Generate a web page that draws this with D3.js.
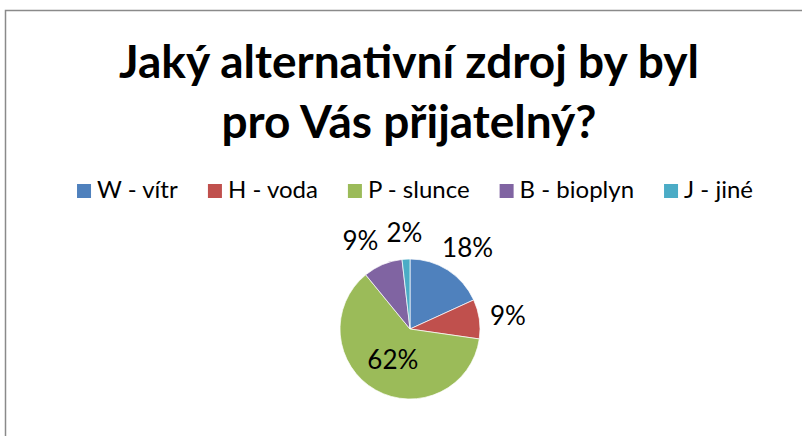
<!DOCTYPE html>
<html>
<head>
<meta charset="utf-8">
<script src="https://cdn.jsdelivr.net/npm/d3@7"></script>
<style>
  body { margin: 0; background: #fff; }
  svg { display: block; }
  text { font-family: Lato, "Open Sans", sans-serif; fill: #000; }
</style>
</head>
<body>
<div id="chart-area"></div>
<script>
// data
var titleLines = ["Jaký alternativní zdroj by byl", "pro Vás přijatelný?"];
var categories = ["W - vítr", "H - voda", "P - slunce", "B - bioplyn", "J - jiné"];
var counts = [10, 5, 34, 5, 1];
var colors = ["#4F81BD", "#C0504D", "#9BBB59", "#8064A2", "#4BACC6"];

var width = 802, height = 436;
var cx = 410, cy = 329, radius = 70;

var svg = d3.select("#chart-area")
            .append("svg")
            .attr("width", width)
            .attr("height", height);

// chart frame (runs off the right and bottom edge)
svg.append("rect")
   .attr("x", 5.5)
   .attr("y", 10.5)
   .attr("width", 900)
   .attr("height", 600)
   .attr("fill", "none")
   .attr("stroke", "#8a8a8a")
   .attr("stroke-width", 1.5);

// title
svg.selectAll(".title")
   .data(titleLines)
   .enter()
   .append("text")
   .attr("class", "title")
   .attr("x", 409)
   .attr("y", (d, i) => 78 + i * 60)
   .attr("text-anchor", "middle")
   .attr("font-size", "46px")
   .attr("font-weight", "bold")
   .text(d => d);

// legend
var legend = svg.append("g").attr("class", "legend");
var items = legend.selectAll("g")
   .data(categories)
   .enter()
   .append("g");

items.append("rect")
   .attr("width", 14)
   .attr("height", 14)
   .attr("y", -14)
   .attr("fill", (d, i) => colors[i]);

items.append("text")
   .attr("x", 20)
   .attr("y", 0)
   .attr("font-size", "24px")
   .text(d => d);

var xPos = 0;
items.each(function() {
    var w = this.getBBox().width;
    d3.select(this).attr("transform", "translate(" + xPos + ",0)");
    xPos += w + 30;
});
var legendWidth = xPos - 30;
legend.attr("transform", "translate(" + (415 - legendWidth / 2) + ",198)");

// pie
var pie = d3.pie().sort(null).value(d => d);
var arcs = pie(counts);
var total = d3.sum(counts);
var arc = d3.arc().innerRadius(0).outerRadius(radius);

var g = svg.append("g").attr("transform", "translate(" + cx + "," + cy + ")");

g.selectAll("path")
 .data(arcs)
 .enter()
 .append("path")
 .attr("d", arc)
 .attr("fill", (d, i) => colors[i])
 .attr("stroke", "#fff")
 .attr("stroke-width", 0.7);

// data labels: large slice inside, the others outside the edge
var labels = g.selectAll(".label")
 .data(arcs)
 .enter()
 .append("text")
 .attr("class", "label")
 .attr("font-size", "26px")
 .attr("text-anchor", "middle")
 .attr("dominant-baseline", "central")
 .text(d => Math.round(d.value / total * 100) + "%");

var placed = [];
labels.each(function(d) {
    var a = (d.startAngle + d.endAngle) / 2;
    var box = this.getBBox();
    var x, y, outside = d.endAngle - d.startAngle <= Math.PI;
    if (!outside) {
        var c = arc.centroid(d);
        x = c[0]; y = c[1];
    } else {
        var r = radius + 11;
        x = Math.sin(a) * r + Math.sin(a) * box.width / 2;
        y = -Math.cos(a) * r - Math.cos(a) * box.height / 2;
    }
    placed.push({ node: this, x: x, y: y, w: box.width, h: box.height, outside: outside });
});

// push apart outside labels that collide (move the left one further left)
var pad = 8;
placed.filter(p => p.outside).sort((p, q) => q.x - p.x).forEach(function(p, i, arr) {
    if (i === 0) return;
    var q = arr[i - 1];
    var overlapY = Math.abs(p.y - q.y) < (p.h + q.h) / 2;
    var need = (p.w + q.w) / 2 + pad - (q.x - p.x);
    if (overlapY && need > 0) p.x -= need;
});

placed.forEach(p => d3.select(p.node).attr("x", p.x).attr("y", p.y));
</script>
</body>
</html>
